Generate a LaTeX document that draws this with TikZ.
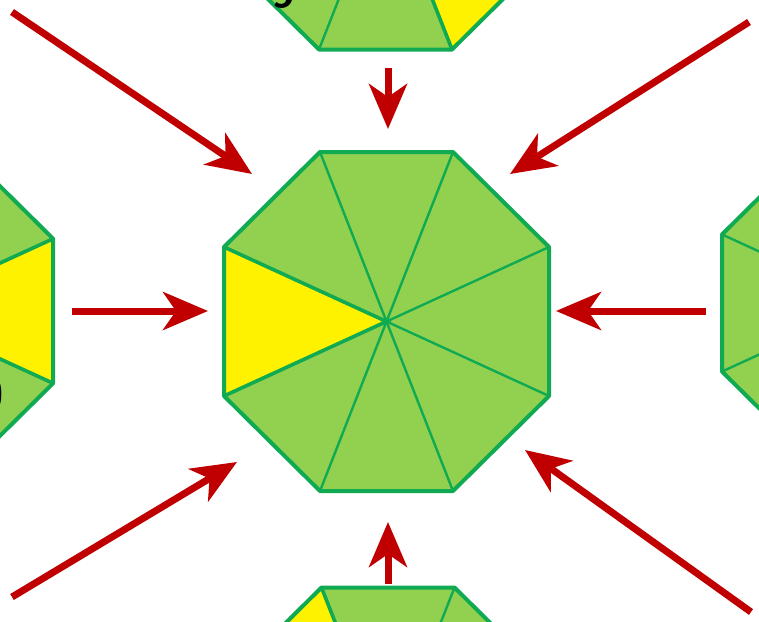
\documentclass[tikz,border=0pt]{standalone}
\usetikzlibrary{arrows.meta}
\definecolor{octgreen}{HTML}{92D050}
\definecolor{octline}{HTML}{0FAA52}
\definecolor{arrred}{HTML}{C00000}
\tikzset{
  octfill/.style={fill=octgreen},
  octborder/.style={draw=octline,line width=4pt,line join=round},
  spoke/.style={draw=octline,line width=2.4pt},
  yspoke/.style={draw=octline,line width=3.6pt},
  redarrow/.style={draw=arrred,line width=7pt,
    -{Stealth[length=45pt,width=38pt,inset=13pt]}},
  glyph/.style={font=\sffamily\bfseries\fontsize{44}{44}\selectfont,inner sep=0pt}
}
\newcommand\drawocta[6]{% name, x, y, scale, yellow vertex a, yellow vertex b
\begin{scope}[shift={(#2,#3)},scale=#4]
  \coordinate (#1c) at (0,0);
  \coordinate (#1v1) at (-66.5,-169.5);
  \coordinate (#1v2) at (66.5,-169.5);
  \coordinate (#1v3) at (162.5,-74.5);
  \coordinate (#1v4) at (162.5,74.5);
  \coordinate (#1v5) at (66.5,169.5);
  \coordinate (#1v6) at (-66.5,169.5);
  \coordinate (#1v7) at (-162.5,74.5);
  \coordinate (#1v8) at (-162.5,-74.5);
  \fill[octfill] (#1v1)--(#1v2)--(#1v3)--(#1v4)--(#1v5)--(#1v6)--(#1v7)--(#1v8)--cycle;
  \fill[yellow] (#1c)--(#1v#5)--(#1v#6)--cycle;
  \foreach \k in {1,...,8}{\draw[spoke] (#1c)--(#1v\k);}
  \draw[yspoke] (#1v#5)--(#1c)--(#1v#6);
  \draw[octborder] (#1v1)--(#1v2)--(#1v3)--(#1v4)--(#1v5)--(#1v6)--(#1v7)--(#1v8)--cycle;
\end{scope}}
\begin{document}
\begin{tikzpicture}[x=1pt,y=-1pt]
  \useasboundingbox (0,0) rectangle (759,621);
  \clip (0,0) rectangle (759,621);
  \fill[white] (0,0) rectangle (759,621);
  % octagons
  \drawocta{m}{386.5}{321.5}{1}{7}{8}
  \drawocta{t}{385.5}{-120}{1}{4}{5}
  \drawocta{b}{388}{757}{1}{8}{1}
  \drawocta{l}{-104.5}{311}{0.97}{3}{4}
  \drawocta{r}{871.5}{303}{0.92}{1}{2}
  % partial labels
  \node[glyph,anchor=base] (gt) at (284,8) {9};
  \node[glyph,anchor=east] (gl) at (4,394) {0};
  % arrow ends
  \coordinate (a1s) at (12,12);   \coordinate (a1e) at (252,174);
  \coordinate (a2s) at (388,68);  \coordinate (a2e) at (388,129);
  \coordinate (a3s) at (749,22);  \coordinate (a3e) at (510,174);
  \coordinate (a4s) at (72,311);  \coordinate (a4e) at (208,311);
  \coordinate (a5s) at (706,311); \coordinate (a5e) at (556,311);
  \coordinate (a6s) at (12,597);  \coordinate (a6e) at (237,462);
  \coordinate (a7s) at (388,584); \coordinate (a7e) at (388,522);
  \coordinate (a8s) at (751,612); \coordinate (a8e) at (525,450);
  \foreach \i in {1,...,8}{\draw[redarrow] (a\i s) -- (a\i e);}
\end{tikzpicture}
\end{document}
